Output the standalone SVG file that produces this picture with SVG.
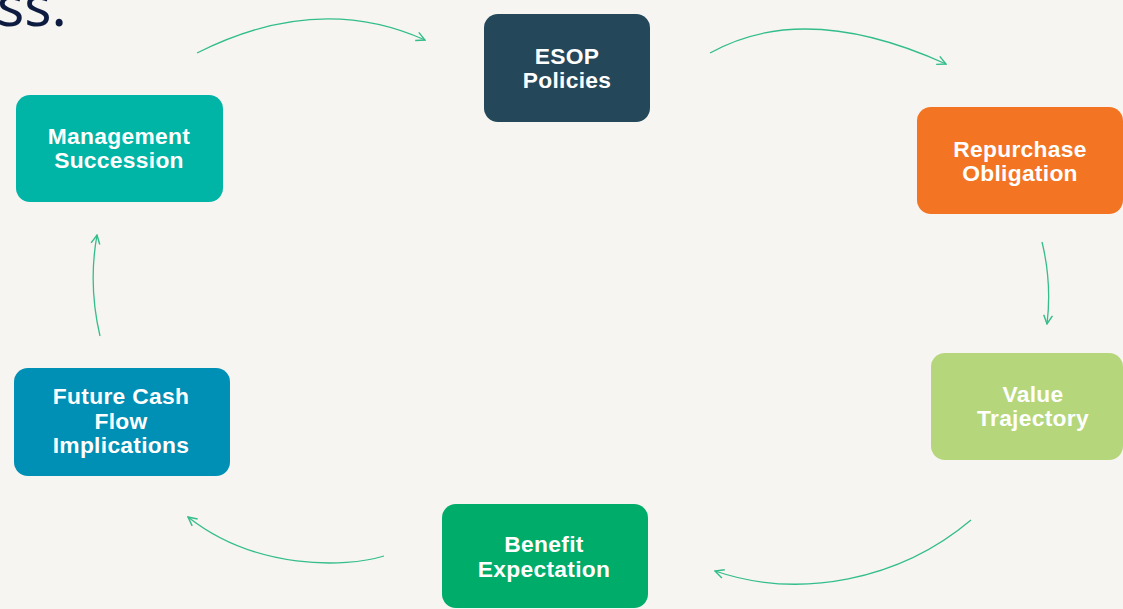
<svg xmlns="http://www.w3.org/2000/svg" width="1123" height="609" viewBox="0 0 1123 609">
  <style>
    .box text { font-family: "Liberation Sans", Arial, sans-serif; font-weight: 700; font-size: 22.8px; letter-spacing: 0.3px; fill: #ffffff; text-anchor: middle; }
    .link { fill: none; stroke: #33bd8c; stroke-width: 1.3; marker-end: url(#chev); }
    .title { font-family: "Noto Sans", "Open Sans", sans-serif; font-size: 57px; fill: #0d1b40; }
  </style>
  <defs>
    <marker id="chev" viewBox="0 0 10 10" refX="9" refY="5" markerWidth="11" markerHeight="11" markerUnits="userSpaceOnUse" orient="auto">
      <path d="M1,1 L9,5 L1,9" fill="none" stroke="#33bd8c" stroke-width="1.3"/>
    </marker>
  </defs>

  <rect width="1123" height="609" fill="#f7f5f2"/>

  <!-- tail of the heading line above, clipped by the top edge -->
  <text class="title" x="-3" y="26">ss.</text>

  <g id="connectors">
    <path class="link" d="M197,53 Q318,-8 425,40"/>
    <path class="link" d="M710,53 Q805,0 946,64"/>
    <path class="link" d="M1042,242 Q1052,283 1047,324"/>
    <path class="link" d="M971,520 C900,580 800,600 715,571"/>
    <path class="link" d="M384,556 C345,568 255,570 188,517"/>
    <path class="link" d="M100,336 Q88,285 97,235"/>
  </g>

  <g id="management-succession" class="box">
    <rect x="16" y="95" width="207" height="107" rx="14" fill="#00b5a6"/>
    <text x="119" y="144">Management</text>
    <text x="119" y="168">Succession</text>
  </g>

  <g id="esop-policies" class="box">
    <rect x="484" y="14" width="166" height="108" rx="14" fill="#25475a"/>
    <text x="567" y="64">ESOP</text>
    <text x="567" y="88">Policies</text>
  </g>

  <g id="repurchase-obligation" class="box">
    <rect x="917" y="107" width="206" height="107" rx="14" fill="#f37423"/>
    <text x="1020" y="157">Repurchase</text>
    <text x="1020" y="181">Obligation</text>
  </g>

  <g id="value-trajectory" class="box">
    <rect x="931" y="353" width="192" height="107" rx="14" fill="#b5d67b"/>
    <text x="1033" y="402">Value</text>
    <text x="1033" y="426">Trajectory</text>
  </g>

  <g id="benefit-expectation" class="box">
    <rect x="442" y="504" width="206" height="104" rx="14" fill="#00ac69"/>
    <text x="544" y="552">Benefit</text>
    <text x="544" y="577">Expectation</text>
  </g>

  <g id="future-cash-flow" class="box">
    <rect x="14" y="368" width="216" height="108" rx="14" fill="#008fb5"/>
    <text x="121" y="404">Future Cash</text>
    <text x="121" y="429">Flow</text>
    <text x="121" y="453">Implications</text>
  </g>
</svg>
